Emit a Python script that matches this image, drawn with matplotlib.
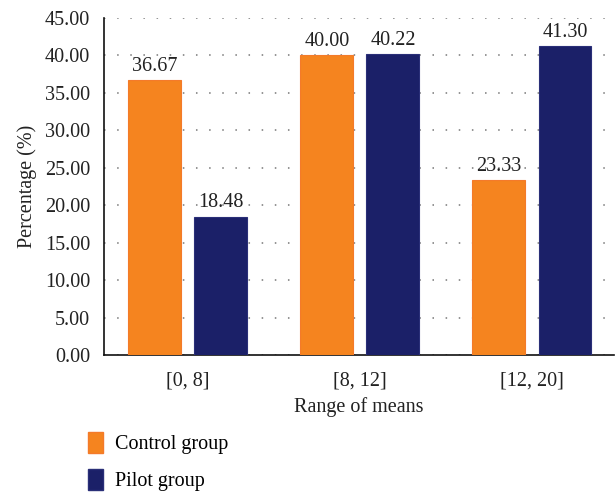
import matplotlib
matplotlib.use("Agg")
import matplotlib.pyplot as plt
from matplotlib.patches import Patch
import numpy as np

categories = ["[0, 8]", "[8, 12]", "[12, 20]"]
control = [36.67, 40.00, 23.33]
pilot = [18.48, 40.22, 41.30]
series_names = ["Control group", "Pilot group"]
yticks = [0, 5, 10, 15, 20, 25, 30, 35, 40, 45]

orange = "#F5841F"
navy = "#1B2068"
fs = 14.5

plt.rcParams["font.family"] = ["Liberation Serif", "DejaVu Serif"]
fig = plt.figure(figsize=(6.16, 4.92), dpi=100)
ax = fig.add_axes([0.1688, 0.2785, 0.828, 0.6849])

x = np.arange(len(categories))
w = 0.308
off = 0.192
b1 = ax.bar(x - off, control, w, color=orange, edgecolor="#F47A2A", linewidth=0.8, zorder=3)
b2 = ax.bar(x + off, pilot, w, color=navy, edgecolor="#2A2F78", linewidth=0.8, zorder=3)

for bars, vals in ((b1, control), (b2, pilot)):
    for r, v in zip(bars, vals):
        ax.annotate(f"{v:.2f}", (r.get_x() + r.get_width() / 2, v), xytext=(0, 3),
                    textcoords="offset points", ha="center", va="bottom",
                    fontsize=fs, color="#222222")

ax.set_xlim(-0.488, 2.477)
ax.set_ylim(0, 45)
ax.set_yticks(yticks)
ax.set_yticklabels([f"{t:.2f}" for t in yticks])
ax.set_xticks(x)
ax.set_xticklabels(categories)
ax.tick_params(axis="y", length=0, labelsize=fs, colors="#222222", pad=10)
ax.tick_params(axis="x", length=0, labelsize=fs, colors="#222222", pad=12)
ax.yaxis.grid(True, linestyle=(0, (1, 7.6)), color="#777777", linewidth=1.1, zorder=0)
for s in ("top", "right"):
    ax.spines[s].set_visible(False)
for s in ("left", "bottom"):
    ax.spines[s].set_color("#111111")
    ax.spines[s].set_linewidth(1.2)
ax.set_ylabel("Percentage (%)", fontsize=fs, color="#222222", labelpad=6)
ax.set_xlabel("Range of means", fontsize=fs, color="#222222", labelpad=5)

handles = [Patch(facecolor=orange, edgecolor="#F47A2A"), Patch(facecolor=navy, edgecolor="#2A2F78")]
fig.legend(handles, series_names, loc="upper left", bbox_to_anchor=(0.129, 0.138),
           frameon=False, fontsize=fs, handlelength=0.75, handleheight=1.2,
           handletextpad=0.6, labelspacing=0.75, borderaxespad=0)

fig.savefig("out.png", dpi=100)
